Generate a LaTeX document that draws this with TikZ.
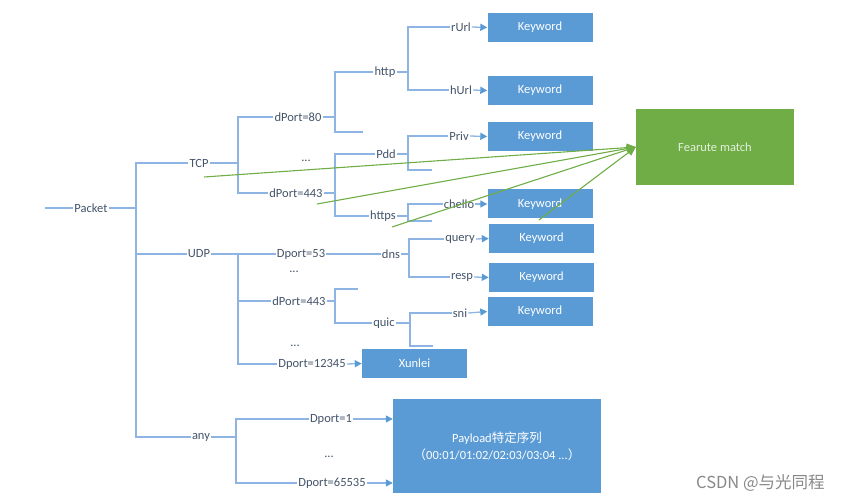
\documentclass[tikz,border=0pt]{standalone}
\usepackage{fontspec}
\setmainfont{Carlito}
\newfontfamily\cjk{Noto Sans CJK SC}
\usetikzlibrary{arrows.meta}
\definecolor{boxblue}{RGB}{91,155,213}
\definecolor{linecol}{RGB}{141,180,226}
\definecolor{txtcol}{RGB}{68,84,106}
\definecolor{fgreen}{RGB}{112,173,71}
\definecolor{ftext}{RGB}{226,239,218}
\definecolor{wmgray}{RGB}{136,136,136}
\begin{document}
\begin{tikzpicture}[x=1pt,y=-1pt,
 lbl/.style={text=txtcol, font=\fontsize{12.5}{14}\selectfont, inner sep=1pt, anchor=center},
 kw/.style={fill=boxblue, draw=none, minimum width=105pt, minimum height=29pt, text=white, font=\fontsize{12.5}{14}\selectfont, inner sep=0pt},
 tree/.style={draw=linecol, line width=1.3pt},
 arr/.style={tree, -{Triangle[length=7pt,width=7pt,color=boxblue]}},
 gline/.style={draw=fgreen, line width=1.1pt, -{Triangle[length=9pt,width=8pt]}},
]
\useasboundingbox (0,0) rectangle (847,502);

% ---- labels ----
\node[lbl] (packet) at (91,208) {Packet};
\node[lbl] (tcp) at (199,163) {TCP};
\node[lbl] (udp) at (199,254) {UDP};
\node[lbl] (any) at (201,437) {any};
\node[lbl] (p80) at (298,117) {dPort=80};
\node[lbl] (td) at (306,161) {...};
\node[lbl] (p443) at (296,193) {dPort=443};
\node[lbl] (http) at (385,72) {http};
\node[lbl] (rurl) at (461,27) {rUrl};
\node[lbl] (hurl) at (461,90) {hUrl};
\node[lbl] (pdd) at (386,154) {Pdd};
\node[lbl] (priv) at (459,136) {Priv};
\node[lbl] (https) at (383,216) {https};
\node[lbl] (chello) at (459,204) {chello};

\node[lbl] (d53) at (301,254) {Dport=53};
\node[lbl] (dns) at (391,254) {dns};
\node[lbl] (query) at (460,239) {query};
\node[lbl] (resp) at (462,277) {resp};
\node[lbl] (ud1) at (294,272) {...};
\node[lbl] (u443) at (299,301) {dPort=443};
\node[lbl] (quic) at (384,323) {quic};
\node[lbl] (sni) at (460,313) {sni};
\node[lbl] (ud2) at (295,346) {...};
\node[lbl] (d12345) at (312,364) {Dport=12345};

\node[lbl] (d1) at (331,419) {Dport=1};
\node[lbl] (ad) at (329,457) {...};
\node[lbl] (d65535) at (332,483) {Dport=65535};

% ---- boxes ----
\node[kw] (k1) at (540,27.5) {Keyword};
\node[kw] (k2) at (540,90.5) {Keyword};
\node[kw] (k3) at (540,136.5) {Keyword};
\node[kw] (k4) at (540,204) {Keyword};
\node[kw] (k5) at (541.5,238.5) {Keyword};
\node[kw] (k6) at (541.5,277.5) {Keyword};
\node[kw] (k7) at (540,311.5) {Keyword};
\node[kw] (xunlei) at (414.5,363.5) {Xunlei};
\node[kw, minimum width=208pt, minimum height=94pt, align=center] (payload) at (497,446)
  {Payload{\cjk 特定序列}\\[3pt]{\cjk （}00:01/01:02/02:03/03:04 ...{\cjk ）}};
\node[fill=fgreen, minimum width=158pt, minimum height=76pt, text=ftext, inner sep=0pt,
  font=\fontsize{12.5}{14}\selectfont] (feat) at (715,147) {Fearute match};

% ---- junction coordinates ----
\coordinate (pin) at (45,208);
\coordinate (j0) at (136,208);
\coordinate (jt) at (238,163);
\coordinate (j80) at (335,117);
\coordinate (e80) at (363,132);
\coordinate (jh) at (408,72);
\coordinate (j443) at (335,193);
\coordinate (jp) at (408,154);
\coordinate (ep) at (432,170);
\coordinate (js) at (408,216);
\coordinate (es) at (432,221);
\coordinate (ju) at (238,254);
\coordinate (jd) at (409,254);
\coordinate (ju4) at (335,301);
\coordinate (eu) at (358,289);
\coordinate (jq) at (410,323);
\coordinate (eq) at (433,346);
\coordinate (ja) at (236,437);

% ---- tree ----
\draw[tree] (pin) -- (packet.west);
\draw[tree] (packet.east) -- (j0);
\draw[tree] (tcp.west) -| (j0) |- (any.west);
\draw[tree] (udp.west) -- (udp.west -| j0);

\draw[tree] (tcp.east) -- (jt);
\draw[tree] (p80.west) -| (jt) |- (p443.west);
\draw[tree] (p80.east) -- (j80);
\draw[tree] (http.west) -| (j80) |- (e80);
\draw[tree] (http.east) -- (jh);
\draw[tree] (rurl.west) -| (jh) |- (hurl.west);
\draw[arr] (rurl.east) -- (k1.west);
\draw[arr] (hurl.east) -- (k2.west);

\draw[tree] (p443.east) -- (j443);
\draw[tree] (pdd.west) -| (j443) |- (https.west);
\draw[tree] (pdd.east) -- (jp);
\draw[tree] (priv.west) -| (jp) |- (ep);
\draw[arr] (priv.east) -- (k3.west);
\draw[tree] (https.east) -- (js);
\draw[tree] (chello.west) -| (js) |- (es);
\draw[arr] (chello.east) -- (k4.west);

\draw[tree] (udp.east) -- (ju);
\draw[tree] (d53.west) -| (ju) |- (d12345.west);
\draw[tree] (u443.west) -- (u443.west -| ju);
\draw[tree] (d53.east) -- (dns.west);
\draw[tree] (dns.east) -- (jd);
\draw[tree] (query.west) -| (jd) |- (resp.west);
\draw[arr] (query.east) -- (k5.west);
\draw[arr] (resp.east) -- (k6.west);
\draw[tree] (u443.east) -- (ju4);
\draw[tree] (eu) -| (ju4) |- (quic.west);
\draw[tree] (quic.east) -- (jq);
\draw[tree] (sni.west) -| (jq) |- (eq);
\draw[arr] (sni.east) -- (k7.west);
\draw[arr] (d12345.east) -- (xunlei.west);

\draw[tree] (any.east) -- (ja);
\draw[tree] (d1.west) -| (ja) |- (d65535.west);
\draw[arr] (d1.east) -- (d1.east -| payload.west);
\draw[arr] (d65535.east) -- (d65535.east -| payload.west);

% ---- green connectors ----
\coordinate (g1) at (204,177);
\coordinate (g2) at (317,204);
\coordinate (g3) at (392,227);
\coordinate (g4) at (539,220);
\draw[gline] (g1) -- (feat.west);
\draw[gline] (g2) -- (feat.west);
\draw[gline] (g3) -- (feat.west);
\draw[gline] (g4) -- (feat.west);

% ---- watermark ----
\node[font=\cjk\fontsize{16.5}{19}\selectfont, text=wmgray, anchor=west, inner sep=0pt] (csdn) at (696,483) {CSDN @与光同程};
\end{tikzpicture}
\end{document}
